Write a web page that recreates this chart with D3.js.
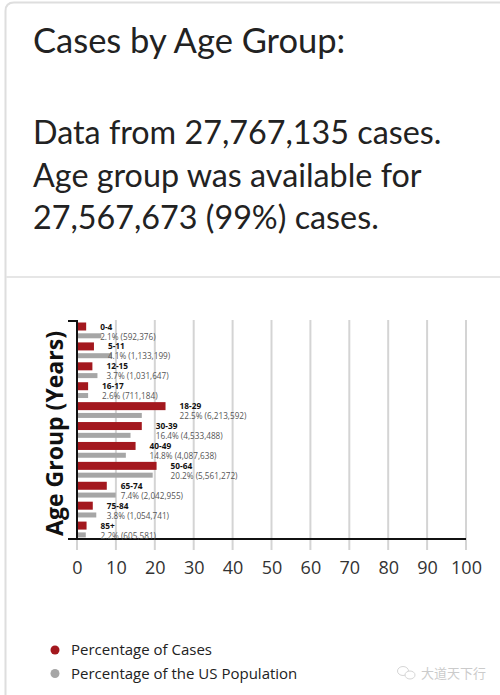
<!DOCTYPE html>
<html>
<head>
<meta charset="utf-8">
<script src="https://cdn.jsdelivr.net/npm/d3@7"></script>
<style>
  html, body { margin: 0; padding: 0; background: #fff; }
  svg { display: block; }
</style>
</head>
<body>
<svg id="chart" width="500" height="695"></svg>
<script>
const ageGroups = ["0-4","5-11","12-15","16-17","18-29","30-39","40-49","50-64","65-74","75-84","85+"];
const casePct = [2.1, 4.1, 3.7, 2.6, 22.5, 16.4, 14.8, 20.2, 7.4, 3.8, 2.2];
const caseCounts = ["592,376","1,133,199","1,031,647","711,184","6,213,592","4,533,488","4,087,638","5,561,272","2,042,955","1,054,741","605,581"];
const popPct = [6.0, 8.7, 5.0, 2.6, 16.4, 13.5, 12.3, 19.2, 9.7, 4.7, 2.0];
const xTicks = [0,10,20,30,40,50,60,70,80,90,100];
const titleLines = ["Cases by Age Group:"];
const subtitleLines = ["Data from 27,767,135 cases.", "Age group was available for", "27,567,673 (99%) cases."];
const legendItems = ["Percentage of Cases", "Percentage of the US Population"];
const colors = { cases: "#a3181e", pop: "#a6a6a6" };

const svg = d3.select("#chart");

// card frame
svg.append("path")
  .attr("d", "M5.5,695 L5.5,11 Q5.5,2.5 14,2.5 L500,2.5")
  .attr("fill", "none").attr("stroke", "#dedede").attr("stroke-width", 2);
svg.append("line").attr("x1", 6).attr("x2", 500).attr("y1", 277).attr("y2", 277)
  .attr("stroke", "#e6e6e6").attr("stroke-width", 2);

// title
svg.append("text").attr("x", 33).attr("y", 53)
  .attr("font-family", "Lato").attr("font-size", 34.5).attr("fill", "#222")
  .text(titleLines[0]);
subtitleLines.forEach((t, i) => {
  svg.append("text").attr("x", 33).attr("y", 144 + i * 42.5)
    .attr("font-family", "Lato").attr("font-size", 32.3).attr("fill", "#222")
    .text(t);
});

// chart
const plotTop = 320, plotBottom = 539, plotLeft = 77, plotRight = 466;
const x = d3.scaleLinear().domain([0, 100]).range([plotLeft, plotRight]);
const y = d3.scaleBand().domain(ageGroups).range([plotTop, plotBottom]).paddingInner(0).paddingOuter(0);

// gridlines
const g = svg.append("g");
g.selectAll("line.grid").data(xTicks.filter(d => d > 0)).join("line")
  .attr("class", "grid")
  .attr("x1", d => x(d)).attr("x2", d => x(d))
  .attr("y1", plotTop).attr("y2", plotBottom + 11)
  .attr("stroke", "#d4d4d4").attr("stroke-width", 2);
g.append("line").attr("x1", x(0)).attr("x2", x(0)).attr("y1", plotBottom).attr("y2", plotBottom + 11)
  .attr("stroke", "#d4d4d4").attr("stroke-width", 2);

// x axis
const xAxis = d3.axisBottom(x).tickValues(xTicks).tickSize(0).tickPadding(22);
const xa = svg.append("g").attr("transform", `translate(0,${plotBottom})`).call(xAxis);
xa.select(".domain").remove();
xa.selectAll("text").attr("font-family", "Open Sans").attr("font-size", 18).attr("fill", "#333");
svg.append("line").attr("x1", 68).attr("x2", plotRight).attr("y1", plotBottom).attr("y2", plotBottom)
  .attr("stroke", "#111").attr("stroke-width", 2);

// y axis
svg.append("line").attr("x1", plotLeft).attr("x2", plotLeft).attr("y1", plotTop).attr("y2", plotBottom)
  .attr("stroke", "#111").attr("stroke-width", 2);
svg.append("line").attr("x1", 68).attr("x2", plotLeft).attr("y1", plotTop + 1).attr("y2", plotTop + 1)
  .attr("stroke", "#111").attr("stroke-width", 2);

// bars
const bars = svg.append("g");
bars.selectAll("rect.cases").data(ageGroups).join("rect")
  .attr("class", "cases")
  .attr("x", x(0) + 1).attr("y", d => y(d) + 2.5)
  .attr("width", (d, i) => x(casePct[i]) - x(0)).attr("height", 8)
  .attr("fill", colors.cases);
bars.selectAll("rect.pop").data(ageGroups).join("rect")
  .attr("class", "pop")
  .attr("x", x(0) + 1).attr("y", d => y(d) + 13.3)
  .attr("width", (d, i) => x(popPct[i]) - x(0)).attr("height", 5)
  .attr("fill", colors.pop);

// labels
const labels = svg.append("g").attr("font-family", "Open Sans");
labels.selectAll("text.age").data(ageGroups).join("text")
  .attr("class", "age")
  .attr("x", (d, i) => x(casePct[i]) + 15)
  .attr("y", d => y(d) + 9.5)
  .attr("font-size", 8.3).attr("font-weight", "bold").attr("fill", "#111")
  .text(d => d);
labels.selectAll("text.val").data(ageGroups).join("text")
  .attr("class", "val")
  .attr("x", (d, i) => x(casePct[i]) + 15)
  .attr("y", d => y(d) + 19.5)
  .attr("font-size", 8.2).attr("fill", "#555")
  .text((d, i) => `${casePct[i]}% (${caseCounts[i]})`);

// y axis title
svg.append("text")
  .attr("transform", `translate(63,${(plotTop + plotBottom) / 2 + 4}) rotate(-90)`)
  .attr("text-anchor", "middle")
  .attr("font-family", "Open Sans").attr("font-weight", "bold").attr("font-size", 23)
  .attr("fill", "#111")
  .attr("textLength", 205).attr("lengthAdjust", "spacingAndGlyphs")
  .text("Age Group (Years)");

// legend
const legendColors = [colors.cases, colors.pop];
const lg = svg.append("g");
legendItems.forEach((t, i) => {
  lg.append("circle").attr("cx", 55).attr("cy", 650 + i * 23.5).attr("r", 4.5).attr("fill", legendColors[i]);
  lg.append("text").attr("x", 71).attr("y", 655 + i * 23.5)
    .attr("font-family", "Open Sans").attr("font-size", 15).attr("fill", "#222")
    .text(t);
});

// watermark
const wm = svg.append("g").attr("opacity", 0.6);
wm.append("ellipse").attr("cx", 403).attr("cy", 671).attr("rx", 5.5).attr("ry", 4.5)
  .attr("fill", "none").attr("stroke", "#bbb").attr("stroke-width", 1);
wm.append("ellipse").attr("cx", 410).attr("cy", 675).attr("rx", 5).attr("ry", 4)
  .attr("fill", "#fff").attr("stroke", "#bbb").attr("stroke-width", 1);
wm.append("text").attr("x", 421).attr("y", 678)
  .attr("font-family", "Noto Sans CJK SC").attr("font-size", 13).attr("fill", "#aaa")
  .text("大道天下行");
</script>
</body>
</html>
